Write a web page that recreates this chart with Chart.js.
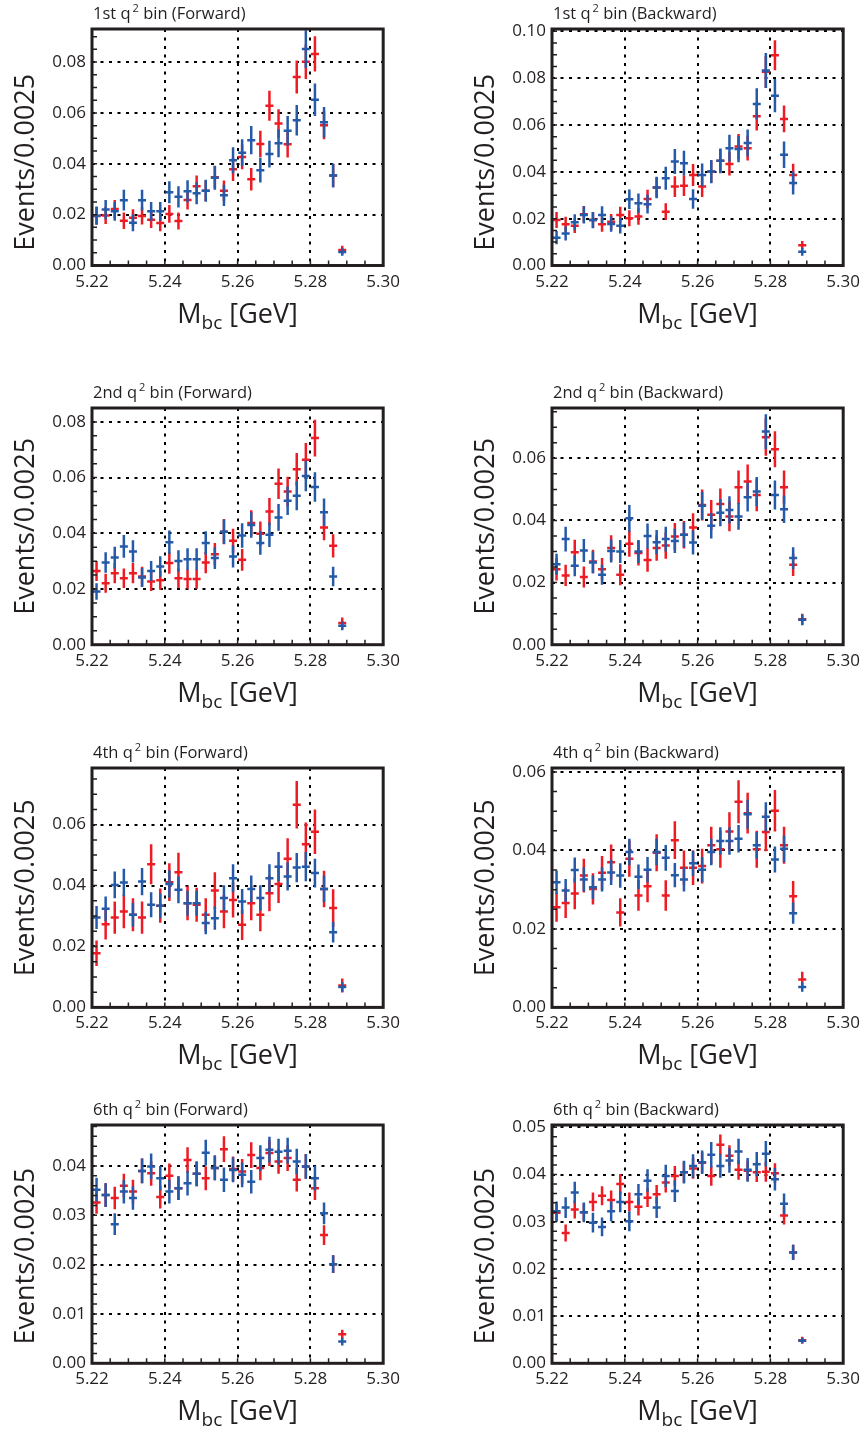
<!DOCTYPE html>
<html>
<head>
<meta charset="utf-8">
<title>Mbc distributions in q2 bins</title>
<script src="https://cdn.jsdelivr.net/npm/chart.js@4.4.1/dist/chart.umd.min.js"></script>
<style>
  body { margin: 0; background: #fff; }
  #page { position: relative; width: 866px; height: 1432px; overflow: hidden; }
  #page canvas { position: absolute; }
</style>
</head>
<body>
<div id="page"></div>
<script>
// ---------------- Data ----------------
// bin centres in M_bc [GeV], bins are 0.0025 wide
const mbc = [5.22125, 5.22375, 5.22625, 5.22875, 5.23125, 5.23375, 5.23625, 5.23875, 5.24125, 5.24375,
             5.24625, 5.24875, 5.25125, 5.25375, 5.25625, 5.25875, 5.26125, 5.26375, 5.26625, 5.26875,
             5.27125, 5.27375, 5.27625, 5.27875, 5.28125, 5.28375, 5.28625, 5.28875];
const xTicks = [5.22, 5.24, 5.26, 5.28, 5.30];

const ticksTo008 = [0, 0.02, 0.04, 0.06, 0.08];
const ticksTo010 = [0, 0.02, 0.04, 0.06, 0.08, 0.10];
const ticksTo006 = [0, 0.02, 0.04, 0.06];
const ticksTo004 = [0, 0.01, 0.02, 0.03, 0.04];
const ticksTo005 = [0, 0.01, 0.02, 0.03, 0.04, 0.05];

// 1st q2 bin, forward
const q1FwdRed = [0.0195, 0.0197, 0.0222, 0.0176, 0.0188, 0.0195, 0.0180, 0.0167, 0.0203, 0.0175, 0.0258, 0.0312, 0.0294, 0.0347,
                  0.0294, 0.0378, 0.0427, 0.0339, 0.0478, 0.0628, 0.0558, 0.0477, 0.0741, 0.0801, 0.0832, 0.0552, 0.0354, 0.0061];
const q1FwdRedErr = [0.0034, 0.0034, 0.0036, 0.0032, 0.0033, 0.0034, 0.0033, 0.0032, 0.0035, 0.0033, 0.0038, 0.0042, 0.0040, 0.0044,
                     0.0040, 0.0046, 0.0049, 0.0044, 0.0052, 0.0059, 0.0056, 0.0052, 0.0065, 0.0068, 0.0069, 0.0056, 0.0045, 0.0017];
const q1FwdBlue = [0.0196, 0.0220, 0.0213, 0.0257, 0.0168, 0.0257, 0.0213, 0.0213, 0.0288, 0.0270, 0.0292, 0.0284, 0.0294, 0.0345,
                   0.0276, 0.0414, 0.0443, 0.0493, 0.0375, 0.0438, 0.0481, 0.0530, 0.0571, 0.0851, 0.0652, 0.0563, 0.0354, 0.0053];
const q1FwdBlueErr = [0.0036, 0.0038, 0.0037, 0.0041, 0.0033, 0.0041, 0.0037, 0.0037, 0.0043, 0.0042, 0.0043, 0.0043, 0.0043, 0.0047,
                      0.0042, 0.0051, 0.0053, 0.0056, 0.0049, 0.0053, 0.0055, 0.0058, 0.0060, 0.0074, 0.0064, 0.0060, 0.0047, 0.0015];

// 1st q2 bin, backward
const q1BwdRed = [0.0194, 0.0176, 0.0170, 0.0219, 0.0194, 0.0176, 0.0187, 0.0216, 0.0202, 0.0209, 0.0284, 0.0333, 0.0230, 0.0337,
                  0.0341, 0.0387, 0.0337, 0.0401, 0.0447, 0.0434, 0.0508, 0.0501, 0.0637, 0.0827, 0.0898, 0.0626, 0.0387, 0.0087];
const q1BwdRedErr = [0.0034, 0.0032, 0.0031, 0.0035, 0.0034, 0.0032, 0.0033, 0.0035, 0.0034, 0.0035, 0.0040, 0.0043, 0.0036, 0.0044,
                     0.0044, 0.0047, 0.0044, 0.0048, 0.0050, 0.0050, 0.0054, 0.0053, 0.0060, 0.0068, 0.0064, 0.0057, 0.0048, 0.0018];
const q1BwdBlue = [0.0119, 0.0137, 0.0185, 0.0216, 0.0194, 0.0216, 0.0177, 0.0170, 0.0283, 0.0266, 0.0262, 0.0333, 0.0373, 0.0444,
                   0.0437, 0.0284, 0.0387, 0.0401, 0.0447, 0.0501, 0.0497, 0.0523, 0.0690, 0.0833, 0.0725, 0.0473, 0.0352, 0.0059];
const q1BwdBlueErr = [0.0028, 0.0030, 0.0034, 0.0037, 0.0035, 0.0037, 0.0033, 0.0033, 0.0042, 0.0041, 0.0040, 0.0046, 0.0049, 0.0053,
                      0.0053, 0.0042, 0.0049, 0.0050, 0.0053, 0.0057, 0.0056, 0.0058, 0.0067, 0.0075, 0.0071, 0.0057, 0.0049, 0.0017];

// 2nd q2 bin, forward
const q2FwdRed = [0.0265, 0.0221, 0.0257, 0.0239, 0.0257, 0.0245, 0.0227, 0.0231, 0.0293, 0.0239, 0.0236, 0.0236, 0.0295, 0.0325,
                  0.0406, 0.0373, 0.0305, 0.0437, 0.0398, 0.0478, 0.0578, 0.0550, 0.0630, 0.0664, 0.0742, 0.0421, 0.0355, 0.0078];
const q2FwdRedErr = [0.0036, 0.0034, 0.0036, 0.0035, 0.0036, 0.0035, 0.0034, 0.0034, 0.0038, 0.0035, 0.0035, 0.0035, 0.0038, 0.0040,
                     0.0045, 0.0043, 0.0039, 0.0046, 0.0044, 0.0049, 0.0055, 0.0053, 0.0058, 0.0060, 0.0066, 0.0046, 0.0042, 0.0020];
const q2FwdBlue = [0.0191, 0.0295, 0.0313, 0.0353, 0.0335, 0.0241, 0.0265, 0.0281, 0.0368, 0.0301, 0.0307, 0.0307, 0.0365, 0.0311,
                   0.0406, 0.0317, 0.0392, 0.0430, 0.0365, 0.0395, 0.0457, 0.0517, 0.0535, 0.0606, 0.0566, 0.0476, 0.0245, 0.0068];
const q2FwdBlueErr = [0.0030, 0.0037, 0.0039, 0.0041, 0.0040, 0.0034, 0.0036, 0.0037, 0.0042, 0.0038, 0.0039, 0.0039, 0.0042, 0.0039,
                      0.0044, 0.0040, 0.0044, 0.0046, 0.0042, 0.0044, 0.0048, 0.0051, 0.0052, 0.0055, 0.0053, 0.0049, 0.0035, 0.0016];

// 2nd q2 bin, backward
const q2BwdRed = [0.0243, 0.0223, 0.0298, 0.0218, 0.0268, 0.0243, 0.0311, 0.0225, 0.0325, 0.0295, 0.0273, 0.0311, 0.0319, 0.0348,
                  0.0354, 0.0377, 0.0450, 0.0418, 0.0453, 0.0413, 0.0507, 0.0525, 0.0482, 0.0668, 0.0629, 0.0507, 0.0257, 0.0082];
const q2BwdRedErr = [0.0036, 0.0034, 0.0040, 0.0034, 0.0038, 0.0036, 0.0041, 0.0034, 0.0042, 0.0040, 0.0038, 0.0041, 0.0042, 0.0044,
                     0.0044, 0.0046, 0.0050, 0.0048, 0.0050, 0.0048, 0.0054, 0.0055, 0.0052, 0.0060, 0.0058, 0.0054, 0.0036, 0.0018];
const q2BwdBlue = [0.0259, 0.0340, 0.0254, 0.0303, 0.0265, 0.0225, 0.0302, 0.0300, 0.0407, 0.0300, 0.0350, 0.0330, 0.0340, 0.0334,
                   0.0354, 0.0329, 0.0447, 0.0383, 0.0425, 0.0434, 0.0413, 0.0475, 0.0493, 0.0686, 0.0482, 0.0436, 0.0279, 0.0080];
const q2BwdBlueErr = [0.0034, 0.0040, 0.0034, 0.0037, 0.0035, 0.0032, 0.0037, 0.0037, 0.0043, 0.0037, 0.0040, 0.0039, 0.0040, 0.0039,
                      0.0040, 0.0039, 0.0045, 0.0041, 0.0044, 0.0044, 0.0043, 0.0046, 0.0047, 0.0056, 0.0047, 0.0044, 0.0035, 0.0017];

// 4th q2 bin, forward
const q4FwdRed = [0.0178, 0.0273, 0.0295, 0.0315, 0.0304, 0.0295, 0.0470, 0.0334, 0.0411, 0.0444, 0.0342, 0.0337, 0.0304, 0.0384,
                  0.0315, 0.0353, 0.0271, 0.0342, 0.0304, 0.0375, 0.0405, 0.0488, 0.0665, 0.0536, 0.0577, 0.0389, 0.0326, 0.0072];
const q4FwdRedErr = [0.0042, 0.0050, 0.0053, 0.0055, 0.0054, 0.0053, 0.0066, 0.0056, 0.0062, 0.0064, 0.0056, 0.0056, 0.0054, 0.0060,
                     0.0055, 0.0058, 0.0050, 0.0056, 0.0054, 0.0059, 0.0062, 0.0067, 0.0078, 0.0071, 0.0073, 0.0060, 0.0062, 0.0023];
const q4FwdBlue = [0.0295, 0.0324, 0.0402, 0.0410, 0.0304, 0.0413, 0.0337, 0.0334, 0.0405, 0.0386, 0.0342, 0.0342, 0.0277, 0.0293,
                   0.0359, 0.0424, 0.0348, 0.0389, 0.0359, 0.0424, 0.0462, 0.0430, 0.0459, 0.0462, 0.0441, 0.0389, 0.0247, 0.0067];
const q4FwdBlueErr = [0.0038, 0.0040, 0.0044, 0.0045, 0.0039, 0.0045, 0.0041, 0.0041, 0.0045, 0.0044, 0.0041, 0.0041, 0.0037, 0.0038,
                      0.0042, 0.0046, 0.0041, 0.0044, 0.0042, 0.0046, 0.0048, 0.0046, 0.0048, 0.0048, 0.0047, 0.0044, 0.0034, 0.0016];

// 4th q2 bin, backward
const q4BwdRed = [0.0255, 0.0266, 0.0290, 0.0336, 0.0302, 0.0343, 0.0370, 0.0242, 0.0379, 0.0285, 0.0309, 0.0394, 0.0285, 0.0426,
                  0.0356, 0.0356, 0.0360, 0.0413, 0.0403, 0.0448, 0.0524, 0.0495, 0.0403, 0.0447, 0.0501, 0.0413, 0.0283, 0.0071];
const q4BwdRedErr = [0.0037, 0.0038, 0.0040, 0.0043, 0.0040, 0.0043, 0.0045, 0.0036, 0.0046, 0.0039, 0.0041, 0.0047, 0.0039, 0.0048,
                     0.0044, 0.0044, 0.0044, 0.0047, 0.0047, 0.0049, 0.0055, 0.0052, 0.0047, 0.0049, 0.0053, 0.0047, 0.0039, 0.0020];
const q4BwdBlue = [0.0319, 0.0298, 0.0350, 0.0326, 0.0306, 0.0326, 0.0344, 0.0336, 0.0396, 0.0333, 0.0351, 0.0396, 0.0381, 0.0337,
                   0.0326, 0.0367, 0.0351, 0.0396, 0.0424, 0.0424, 0.0430, 0.0492, 0.0413, 0.0486, 0.0377, 0.0404, 0.0240, 0.0052];
const q4BwdBlueErr = [0.0030, 0.0029, 0.0032, 0.0031, 0.0030, 0.0031, 0.0032, 0.0031, 0.0034, 0.0031, 0.0032, 0.0034, 0.0033, 0.0031,
                      0.0031, 0.0032, 0.0032, 0.0034, 0.0035, 0.0035, 0.0035, 0.0037, 0.0034, 0.0037, 0.0033, 0.0034, 0.0027, 0.0012];

// 6th q2 bin, forward
const q6FwdRed = [0.0326, 0.0341, 0.0335, 0.0360, 0.0348, 0.0390, 0.0385, 0.0337, 0.0380, 0.0355, 0.0412, 0.0384, 0.0375, 0.0396,
                  0.0434, 0.0394, 0.0389, 0.0422, 0.0396, 0.0426, 0.0409, 0.0416, 0.0372, 0.0399, 0.0355, 0.0260, 0.0201, 0.0059];
const q6FwdRedErr = [0.0023, 0.0024, 0.0023, 0.0024, 0.0024, 0.0025, 0.0025, 0.0023, 0.0025, 0.0024, 0.0026, 0.0025, 0.0024, 0.0025,
                     0.0026, 0.0025, 0.0025, 0.0026, 0.0025, 0.0026, 0.0025, 0.0026, 0.0024, 0.0025, 0.0024, 0.0020, 0.0018, 0.0009];
const q6FwdBlue = [0.0352, 0.0341, 0.0282, 0.0348, 0.0335, 0.0390, 0.0399, 0.0375, 0.0348, 0.0355, 0.0365, 0.0384, 0.0427, 0.0396,
                   0.0372, 0.0392, 0.0382, 0.0368, 0.0416, 0.0433, 0.0429, 0.0431, 0.0409, 0.0399, 0.0375, 0.0304, 0.0201, 0.0044];
const q6FwdBlueErr = [0.0024, 0.0024, 0.0022, 0.0024, 0.0024, 0.0025, 0.0026, 0.0025, 0.0024, 0.0024, 0.0025, 0.0025, 0.0026, 0.0025,
                      0.0025, 0.0025, 0.0025, 0.0024, 0.0026, 0.0026, 0.0026, 0.0026, 0.0026, 0.0025, 0.0025, 0.0022, 0.0018, 0.0008];

// 6th q2 bin, backward
const q6BwdRed = [0.0319, 0.0276, 0.0326, 0.0320, 0.0342, 0.0355, 0.0346, 0.0380, 0.0342, 0.0332, 0.0351, 0.0358, 0.0383, 0.0397,
                  0.0405, 0.0413, 0.0425, 0.0397, 0.0463, 0.0440, 0.0410, 0.0408, 0.0405, 0.0406, 0.0403, 0.0313, 0.0235, 0.0049];
const q6BwdRedErr = [0.0019, 0.0018, 0.0019, 0.0019, 0.0020, 0.0020, 0.0020, 0.0021, 0.0020, 0.0019, 0.0020, 0.0020, 0.0021, 0.0021,
                     0.0022, 0.0022, 0.0022, 0.0021, 0.0022, 0.0022, 0.0021, 0.0021, 0.0021, 0.0021, 0.0021, 0.0019, 0.0016, 0.0007];
const q6BwdBlue = [0.0322, 0.0330, 0.0362, 0.0320, 0.0298, 0.0289, 0.0322, 0.0342, 0.0301, 0.0358, 0.0387, 0.0330, 0.0397, 0.0365,
                   0.0405, 0.0418, 0.0426, 0.0442, 0.0418, 0.0430, 0.0449, 0.0410, 0.0422, 0.0444, 0.0390, 0.0338, 0.0235, 0.0048];
const q6BwdBlueErr = [0.0021, 0.0022, 0.0023, 0.0021, 0.0021, 0.0020, 0.0021, 0.0022, 0.0021, 0.0022, 0.0024, 0.0022, 0.0024, 0.0023,
                      0.0024, 0.0025, 0.0025, 0.0027, 0.0025, 0.0026, 0.0027, 0.0025, 0.0026, 0.0027, 0.0024, 0.0022, 0.0016, 0.0006];

// ---------------- Panels ----------------
const panels = [
    { rank: "1st", side: "Forward",  col: 0, row: 0, yMax: 0.093,  yTicks: ticksTo008, minor: 0.005, red: q1FwdRed, redErr: q1FwdRedErr, blue: q1FwdBlue, blueErr: q1FwdBlueErr },
    { rank: "1st", side: "Backward", col: 1, row: 0, yMax: 0.101,  yTicks: ticksTo010, minor: 0.005, red: q1BwdRed, redErr: q1BwdRedErr, blue: q1BwdBlue, blueErr: q1BwdBlueErr },
    { rank: "2nd", side: "Forward",  col: 0, row: 1, yMax: 0.085,  yTicks: ticksTo008, minor: 0.005, red: q2FwdRed, redErr: q2FwdRedErr, blue: q2FwdBlue, blueErr: q2FwdBlueErr },
    { rank: "2nd", side: "Backward", col: 1, row: 1, yMax: 0.0762, yTicks: ticksTo006, minor: 0.005, red: q2BwdRed, redErr: q2BwdRedErr, blue: q2BwdBlue, blueErr: q2BwdBlueErr },
    { rank: "4th", side: "Forward",  col: 0, row: 2, yMax: 0.0786, yTicks: ticksTo006, minor: 0.005, red: q4FwdRed, redErr: q4FwdRedErr, blue: q4FwdBlue, blueErr: q4FwdBlueErr },
    { rank: "4th", side: "Backward", col: 1, row: 2, yMax: 0.061,  yTicks: ticksTo006, minor: 0.005, red: q4BwdRed, redErr: q4BwdRedErr, blue: q4BwdBlue, blueErr: q4BwdBlueErr },
    { rank: "6th", side: "Forward",  col: 0, row: 3, yMax: 0.0483, yTicks: ticksTo004, minor: 0.002, red: q6FwdRed, redErr: q6FwdRedErr, blue: q6FwdBlue, blueErr: q6FwdBlueErr },
    { rank: "6th", side: "Backward", col: 1, row: 3, yMax: 0.0505, yTicks: ticksTo005, minor: 0.002, red: q6BwdRed, redErr: q6BwdRedErr, blue: q6BwdBlue, blueErr: q6BwdBlueErr }
];

// canvas placement
const CANVAS_W = 406, CANVAS_H = 336;
const colLeft = [0, 460];
const rowTop = [0, 379, 739, 1096];
const plotTop = 29;
const plotHeight = [236.5, 236.7, 239.4, 238.3];
const yTitleShift = [15, 0, 0, 12];

const RED = "#ED1C24";
const BLUE = "#255AA8";
const INK = "#231F20";
const FONT = "'Open Sans', 'Noto Sans', sans-serif";

// ---------------- Plugins ----------------
// vertical error bar + short horizontal bar at every bin
const errorCrosses = {
    id: "errorCrosses",
    afterDatasetsDraw(chart) {
        const { ctx, chartArea: a, scales: { x, y } } = chart;
        ctx.save();
        ctx.beginPath();
        ctx.rect(a.left, a.top, a.width, a.height);
        ctx.clip();
        ctx.lineWidth = 2.5;
        chart.data.datasets.forEach(ds => {
            ctx.strokeStyle = ds.borderColor;
            ds.data.forEach((p, i) => {
                const px = x.getPixelForValue(p.x);
                const py = y.getPixelForValue(p.y);
                const hi = y.getPixelForValue(p.y + ds.errors[i]);
                const lo = y.getPixelForValue(p.y - ds.errors[i]);
                ctx.beginPath();
                ctx.moveTo(px, hi);
                ctx.lineTo(px, lo);
                ctx.moveTo(px - 4, py);
                ctx.lineTo(px + 4, py);
                ctx.stroke();
            });
        });
        ctx.restore();
    }
};

// frame, inward minor ticks and the text around each panel
const panelFrame = {
    id: "panelFrame",
    afterDraw(chart, args, opts) {
        const { ctx, chartArea: a, scales: { x, y } } = chart;
        ctx.save();

        ctx.strokeStyle = INK;
        ctx.lineWidth = 1.5;
        ctx.beginPath();
        const nx = Math.round((x.max - x.min) / 0.005);
        for (let i = 1; i < nx; i++) {
            const px = x.getPixelForValue(x.min + i * 0.005);
            ctx.moveTo(px, a.bottom);
            ctx.lineTo(px, a.bottom - 5);
        }
        const ny = Math.floor(y.max / opts.minor + 1e-6);
        for (let i = 1; i <= ny; i++) {
            const py = y.getPixelForValue(i * opts.minor);
            ctx.moveTo(a.left, py);
            ctx.lineTo(a.left + 5, py);
        }
        ctx.stroke();

        ctx.lineWidth = 3;
        ctx.strokeRect(a.left, a.top, a.right - a.left, a.bottom - a.top);

        ctx.fillStyle = INK;
        ctx.textAlign = "left";
        ctx.textBaseline = "alphabetic";

        // panel title: "1st q² bin (Forward)"
        let tx = a.left + 1;
        const ty = a.top - 10;
        ctx.font = "16.5px " + FONT;
        const head = opts.rank + " q";
        ctx.fillText(head, tx, ty);
        tx += ctx.measureText(head).width + 2;
        ctx.font = "11px " + FONT;
        ctx.fillText("2", tx, ty - 7);
        tx += ctx.measureText("2").width;
        ctx.font = "16.5px " + FONT;
        ctx.fillText(" bin (" + opts.side + ")", tx, ty);

        // x title: M_bc [GeV]
        ctx.font = "27px " + FONT;
        const wM = ctx.measureText("M").width;
        const wRest = ctx.measureText(" [GeV]").width;
        ctx.font = "19px " + FONT;
        const wSub = ctx.measureText("bc").width;
        let mx = (a.left + a.right) / 2 - (wM + wSub + wRest) / 2;
        const my = a.bottom + 57;
        ctx.font = "27px " + FONT;
        ctx.fillText("M", mx, my);
        mx += wM;
        ctx.font = "19px " + FONT;
        ctx.fillText("bc", mx, my + 6);
        mx += wSub;
        ctx.font = "27px " + FONT;
        ctx.fillText(" [GeV]", mx, my);

        // y title
        ctx.translate(26, (a.top + a.bottom) / 2 + opts.shift);
        ctx.rotate(-Math.PI / 2);
        ctx.textAlign = "center";
        ctx.textBaseline = "middle";
        ctx.font = "27px " + FONT;
        ctx.fillText("Events/0.0025", 0, 0);

        ctx.restore();
    }
};

// ---------------- Charts ----------------
const page = document.getElementById("page");

panels.forEach(panel => {
    const canvas = document.createElement("canvas");
    canvas.width = CANVAS_W;
    canvas.height = CANVAS_H;
    canvas.style.left = colLeft[panel.col] + "px";
    canvas.style.top = rowTop[panel.row] + "px";
    page.appendChild(canvas);

    const xAxisHeight = CANVAS_H - plotTop - plotHeight[panel.row];
    const tickFont = { family: FONT, size: 17 };

    new Chart(canvas, {
        type: "scatter",
        data: {
            datasets: [
                { label: "red", data: mbc.map((m, i) => ({ x: m, y: panel.red[i] })), errors: panel.redErr,
                  borderColor: RED, backgroundColor: RED, pointRadius: 0 },
                { label: "blue", data: mbc.map((m, i) => ({ x: m, y: panel.blue[i] })), errors: panel.blueErr,
                  borderColor: BLUE, backgroundColor: BLUE, pointRadius: 0 }
            ]
        },
        options: {
            responsive: false,
            animation: false,
            devicePixelRatio: 1,
            events: [],
            layout: { padding: { top: plotTop, right: 19.5, bottom: 0, left: 0 } },
            plugins: {
                legend: { display: false },
                tooltip: { enabled: false },
                panelFrame: { rank: panel.rank, side: panel.side, minor: panel.minor, shift: yTitleShift[panel.row] }
            },
            scales: {
                x: {
                    type: "linear",
                    min: 5.22,
                    max: 5.30,
                    afterBuildTicks: axis => { axis.ticks = xTicks.map(v => ({ value: v })); },
                    afterFit: axis => { axis.height = xAxisHeight; },
                    grid: { color: "#000", lineWidth: 2, drawTicks: false },
                    border: { display: false, dash: [3, 5.5] },
                    ticks: { font: tickFont, color: INK, padding: 6, maxRotation: 0, autoSkip: false,
                             callback: v => v.toFixed(2) }
                },
                y: {
                    type: "linear",
                    min: 0,
                    max: panel.yMax,
                    afterBuildTicks: axis => { axis.ticks = panel.yTicks.map(v => ({ value: v })); },
                    afterFit: axis => { axis.width = 92; },
                    grid: { color: "#000", lineWidth: 2, drawTicks: false },
                    border: { display: false, dash: [3, 5.5] },
                    ticks: { font: tickFont, color: INK, padding: 6, autoSkip: false,
                             callback: v => v.toFixed(2) }
                }
            }
        },
        plugins: [errorCrosses, panelFrame]
    });
});
</script>
</body>
</html>
